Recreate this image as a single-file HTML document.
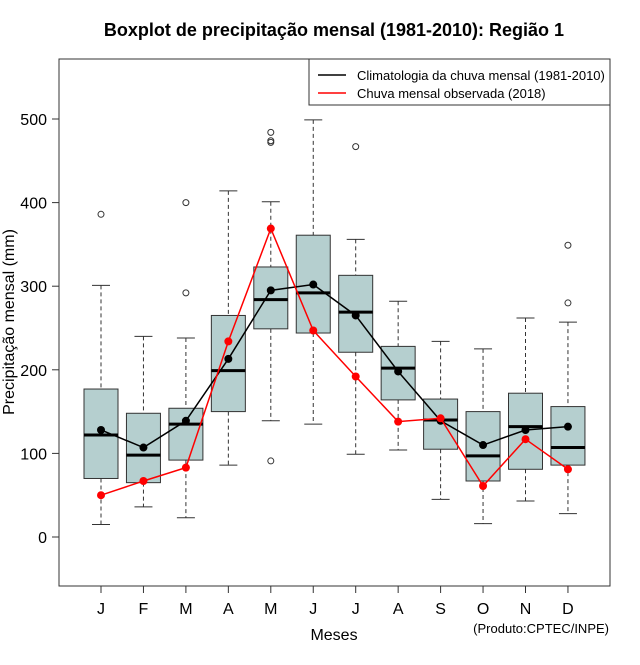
<!DOCTYPE html>
<html><head><meta charset="utf-8"><style>
body{margin:0;background:#fff}
svg text{font-family:"Liberation Sans","DejaVu Sans",sans-serif}
</style></head><body>
<svg id="c" width="640" height="660">
<text x="334" y="36" text-anchor="middle" font-size="18" font-weight="bold">Boxplot de precipitação mensal (1981-2010): Região 1</text>
<rect x="59" y="59" width="551" height="527" fill="none" stroke="#333"/>
<g id="yaxis"></g>
<g id="xaxis"></g>
<g id="boxes"></g>
<g id="lines"></g>
<text transform="translate(14,322) rotate(-90)" text-anchor="middle" font-size="16">Precipitação mensal (mm)</text>
<text x="334" y="640" text-anchor="middle" font-size="16">Meses</text>
<text x="609" y="633" text-anchor="end" font-size="13">(Produto:CPTEC/INPE)</text>
<g>
<rect x="309" y="59" width="301" height="46" fill="#fff" stroke="#333"/>
<line x1="318" y1="75" x2="346" y2="75" stroke="#000" stroke-width="1.5"/>
<text x="357" y="80" font-size="13">Climatologia da chuva mensal (1981-2010)</text>
<line x1="318" y1="93" x2="346" y2="93" stroke="red" stroke-width="1.5"/>
<text x="357" y="98" font-size="13">Chuva mensal observada (2018)</text>
</g>
</svg>
<script>
const months=["J","F","M","A","M","J","J","A","S","O","N","D"];
const whiskLo=[15,36,23,86,139,135,99,104,45,16,43,28];
const q1=[70,65,92,150,249,244,221,164,105,67,81,86];
const med=[122,98,135,199,284,292,269,202,140,97,132,107];
const q3=[177,148,154,265,323,361,313,228,165,150,172,156];
const whiskHi=[301,240,238,414,401,499,356,282,234,225,262,257];
const outliers=[[386],[],[292,400],[],[91,472,474,484],[],[467],[],[],[],[],[280,349]];
const climMean=[128,107,139,213,295,302,265,198,139,110,128,132];
const obs2018=[50,67,83,234,369,247,192,138,142,61,117,81];
const yTicks=[0,100,200,300,400,500];
const NS="http://www.w3.org/2000/svg";
const X=i=>101+i*42.45, Y=v=>537-v*0.836;
function mk(p,t,a){const e=document.createElementNS(NS,t);for(const k in a)e.setAttribute(k,a[k]);p.appendChild(e);return e;}
const ya=document.getElementById('yaxis'),xa=document.getElementById('xaxis'),bx=document.getElementById('boxes'),ln=document.getElementById('lines');
yTicks.forEach(v=>{const l=mk(ya,'line',{x1:52,x2:59,y1:Y(v),y2:Y(v),stroke:'#333'});


const t=mk(ya,'text',{x:47,y:Y(v)+6,'text-anchor':'end','font-size':16});t.textContent=v;

});
months.forEach((m,i)=>{const x=X(i);
const l=mk(xa,'line',{x1:x,x2:x,y1:586,y2:593,stroke:'#333'});


const t=mk(xa,'text',{x:x,y:614,'text-anchor':'middle','font-size':16});t.textContent=m;


const g=mk(bx,'g',{});


mk(g,'line',{x1:x,x2:x,y1:Y(whiskHi[i]),y2:Y(q3[i]),stroke:'#333','stroke-dasharray':'4,3'});
mk(g,'line',{x1:x,x2:x,y1:Y(q1[i]),y2:Y(whiskLo[i]),stroke:'#333','stroke-dasharray':'4,3'});
mk(g,'line',{x1:x-9,x2:x+9,y1:Y(whiskHi[i]),y2:Y(whiskHi[i]),stroke:'#333'});
mk(g,'line',{x1:x-9,x2:x+9,y1:Y(whiskLo[i]),y2:Y(whiskLo[i]),stroke:'#333'});
mk(g,'rect',{x:x-17,y:Y(q3[i]),width:34,height:Y(q1[i])-Y(q3[i]),fill:'#b5cfcf',stroke:'#333'});
mk(g,'line',{x1:x-17,x2:x+17,y1:Y(med[i]),y2:Y(med[i]),stroke:'#000','stroke-width':3});
outliers[i].forEach(o=>mk(g,'circle',{cx:x,cy:Y(o),r:3,fill:'none',stroke:'#333'}));
});
function series(vals,col,name){const p=mk(ln,'polyline',{points:vals.map((v,i)=>X(i)+','+Y(v)).join(' '),fill:'none',stroke:col,'stroke-width':1.5});


vals.forEach((v,i)=>{const c=mk(ln,'circle',{cx:X(i),cy:Y(v),r:4,fill:col});

});}
series(climMean,'#000','climatology');
series(obs2018,'red','observed-2018');
</script>
</body></html>
